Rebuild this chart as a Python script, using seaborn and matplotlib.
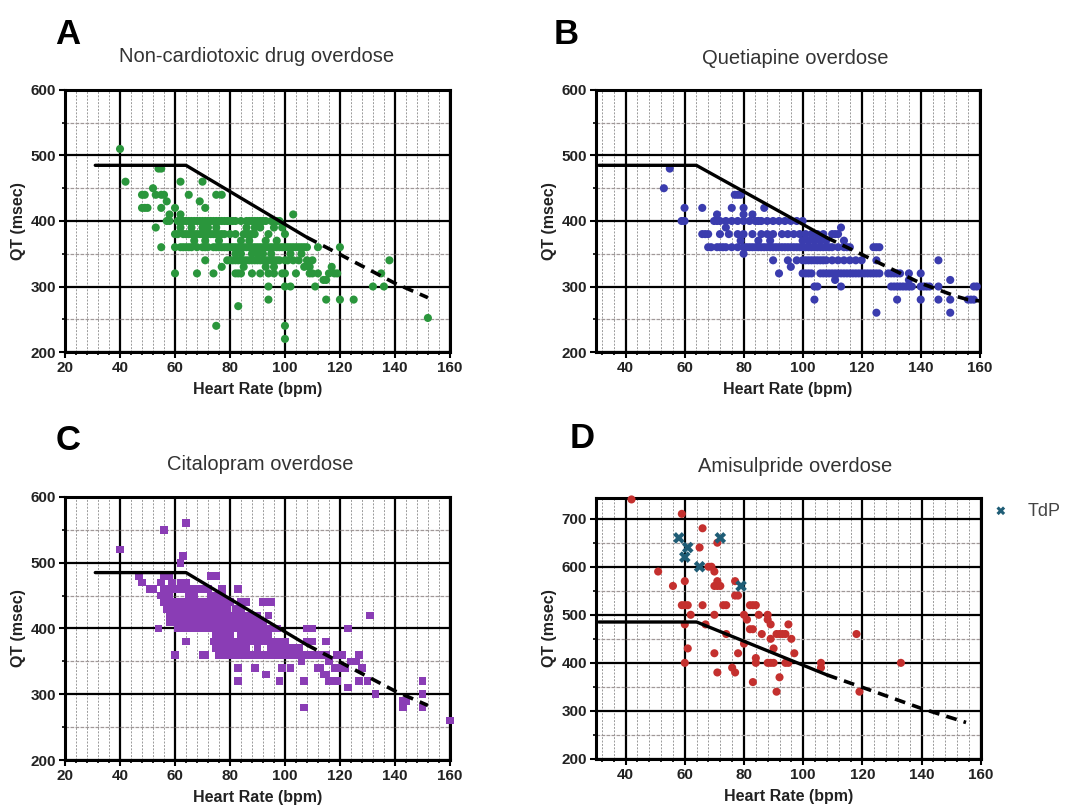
import numpy as np
import pandas as pd
import matplotlib
matplotlib.use("Agg")
import matplotlib.pyplot as plt
import seaborn as sns
from matplotlib.ticker import MultipleLocator

sns.set_style("white")
plt.rcParams['font.family'] = ['Liberation Sans', 'DejaVu Sans']

# ---------------- data ----------------
# QT nomogram (solid part, dashed extrapolation)
nomo_hr = [31, 64, 108]
nomo_qt = [485, 485, 375]
nomo_ext_hr = [108, 120, 140, 152]
nomo_ext_qt = [375, 349, 305, 283]
nomo_ext_hr_b = [108, 120, 140, 152, 156, 160]
nomo_ext_qt_b = [375, 349, 305, 285, 280, 278]
nomo_ext_hr_d = [108, 120, 140, 155]
nomo_ext_qt_d = [375, 349, 305, 276]

# Panel A: non-cardiotoxic (rows by QT value + scattered points)
a_rows = {
    400: [57, 58, 61, 63, 64, 65, 66, 67, 68, 69, 70, 71, 72, 73, 74, 75, 76, 77, 78, 79, 80, 81, 82, 84, 86, 87, 88, 89, 90, 91, 92, 93, 95, 97, 98],
    390: [62, 66, 70, 72, 75, 86, 89, 91, 96, 99],
    380: [61, 63, 64, 65, 66, 67, 68, 69, 70, 71, 72, 73, 74, 75, 76, 77, 78, 80, 82, 85, 86, 87, 88, 89, 94, 100],
    370: [67, 71, 76, 84, 87, 93, 97],
    360: [55, 60, 62, 63, 64, 65, 66, 68, 70, 71, 72, 74, 75, 76, 77, 78, 79, 80, 81, 82, 83, 84, 85, 86, 87, 88, 89, 90, 91, 92, 93, 94, 95, 96, 97, 98, 99, 100, 101, 102, 103, 104, 105, 106, 107, 108, 112, 120],
    350: [82, 84, 88, 90, 92, 95, 102, 106],
    340: [71, 79, 80, 81, 82, 83, 84, 85, 86, 87, 88, 89, 90, 91, 92, 93, 94, 95, 96, 97, 98, 100, 101, 103, 105, 108, 110, 138],
    330: [77, 85, 93, 96, 107, 109, 117],
    320: [60, 68, 74, 82, 83, 84, 88, 91, 94, 96, 99, 100, 104, 109, 110, 112, 116, 118, 119, 135],
    310: [114, 115],
    300: [94, 100, 102, 111, 132, 136],
    280: [94, 115, 120, 125],
}
a_extra_hr = [40, 42, 48, 49, 48, 49, 50, 52, 53, 55, 56, 57, 54, 55, 53, 55, 58, 60, 60, 62, 62, 65, 69, 70, 71, 75, 75, 77, 83, 100, 100, 103, 152]
a_extra_qt = [510, 460, 440, 440, 420, 420, 420, 450, 440, 440, 440, 430, 480, 480, 390, 420, 410, 420, 380, 460, 410, 440, 430, 460, 420, 240, 440, 440, 270, 240, 220, 410, 252]

# Panel B: quetiapine
b_rows = {
    400: [70, 72, 74, 76, 78, 80, 82, 84, 86, 88, 90, 92, 94, 96, 98, 100],
    380: [66, 67, 68, 72, 75, 78, 80, 83, 86, 88, 90, 93, 95, 97, 99, 101, 103, 105, 107, 110, 112],
    370: [79, 85, 89, 100, 102, 104, 106, 108, 114],
    360: [68, 69, 71, 72, 73, 74, 76, 78, 80, 81, 82, 83, 84, 85, 86, 87, 88, 89, 90, 91, 92, 93, 94, 95, 96, 97, 98, 99, 100, 101, 102, 103, 104, 105, 106, 107, 108, 109, 110, 112, 114, 115, 116, 124, 125, 126],
    340: [90, 95, 98, 100, 101, 102, 103, 104, 105, 106, 107, 108, 110, 112, 114, 116, 118, 120, 125],
    320: [92, 100, 101, 102, 103, 106, 107, 108, 109, 110, 111, 112, 113, 114, 115, 116, 117, 118, 119, 120, 121, 122, 123, 124, 125, 126, 129, 130, 131, 132, 133, 136, 140],
    300: [104, 105, 113, 130, 131, 132, 133, 134, 135, 136, 137, 140, 141, 142, 143, 146, 158, 159],
    280: [104, 132, 140, 146, 150, 156, 157, 158],
}
b_extra_hr = [53, 55, 60, 60, 59, 66, 71, 71, 74, 76, 77, 78, 79, 80, 80, 80, 83, 85, 87, 96, 125, 146, 150, 150, 111, 113, 111, 136]
b_extra_qt = [450, 480, 420, 400, 400, 420, 410, 400, 390, 420, 440, 440, 440, 420, 410, 350, 410, 400, 420, 330, 260, 340, 260, 310, 310, 390, 380, 310]

# Panel C: citalopram
c_rows = {
    480: [56, 57, 58, 73, 74, 75],
    470: [55, 59, 62, 63, 64],
    460: [51, 52, 56, 57, 58, 60, 62, 63, 64, 66, 67, 68, 70, 71, 72, 77, 83],
    450: [55, 56, 57, 58, 65, 67, 73, 75, 77],
    440: [56, 57, 58, 59, 60, 62, 64, 66, 68, 69, 70, 72, 74, 76, 78, 80, 84, 86, 92, 95],
    430: [57, 59, 61, 63, 65, 67, 69, 71, 73, 75, 77, 79, 82, 84],
    420: [58, 59, 60, 62, 64, 66, 67, 68, 70, 72, 73, 74, 75, 76, 78, 80, 82, 84, 86, 88, 90, 94, 131],
    410: [58, 60, 61, 62, 64, 65, 66, 68, 69, 70, 71, 72, 73, 74, 75, 76, 77, 78, 79, 80, 81, 82, 83, 84, 85, 86, 87, 88, 90, 91, 92],
    400: [54, 61, 63, 65, 67, 69, 71, 73, 75, 77, 79, 81, 83, 85, 87, 89, 91, 93, 95, 97, 108, 109, 110, 123],
    390: [75, 76, 78, 80, 84, 86, 88, 90, 92, 94],
    380: [64, 74, 76, 77, 78, 79, 80, 82, 84, 86, 88, 90, 92, 94, 96, 98, 100, 108, 109, 110, 115],
    370: [75, 77, 80, 82, 84, 86, 90, 95, 97, 99, 101, 103, 105],
    360: [60, 70, 71, 76, 77, 78, 79, 80, 81, 82, 83, 84, 85, 86, 87, 88, 89, 90, 91, 92, 93, 94, 95, 96, 97, 98, 99, 100, 101, 102, 103, 104, 105, 106, 107, 108, 109, 110, 111, 112, 113, 114, 115, 119, 120, 121, 127],
    350: [106, 116, 124, 126],
    340: [83, 89, 99, 102, 112, 113, 118, 120, 121, 122, 128],
    330: [93, 114, 115],
    320: [83, 98, 107, 116, 119, 127, 130, 150],
    310: [123],
    300: [133, 150],
    290: [143, 144],
    280: [107, 143, 150],
}
c_extra_hr = [40, 56, 64, 62, 63, 47, 48, 160]
c_extra_qt = [520, 550, 560, 500, 510, 480, 470, 260]

# Panel D: amisulpride
d_hr = [42, 59, 51, 56, 60, 59, 60, 61, 62, 60, 61, 60,
        65, 66, 66, 67, 68, 69, 70, 70, 71, 72, 71, 71, 70, 70, 71,
        73, 74, 74, 76, 77, 77, 77, 78, 78,
        80, 80, 81, 82, 83, 84, 82, 83, 84, 84, 85, 86, 83,
        88, 88, 89, 88, 89, 90, 89, 90, 91, 92, 93, 94, 95, 96, 97, 94, 95, 92, 91,
        106, 106, 118, 119, 133]
d_qt = [740, 710, 590, 560, 570, 520, 520, 520, 500, 480, 430, 400,
        640, 680, 520, 480, 600, 600, 590, 560, 560, 560, 570, 650, 500, 420, 380,
        520, 520, 460, 390, 380, 570, 540, 540, 420,
        500, 440, 490, 520, 520, 520, 470, 470, 410, 400, 500, 460, 360,
        500, 490, 480, 400, 400, 400, 450, 430, 460, 460, 460, 460, 480, 450, 420, 400, 400, 370, 340,
        400, 390, 460, 340, 400]
tdp_hr = [58, 61, 60, 65, 72, 79]
tdp_qt = [660, 640, 620, 600, 660, 560]


def rows_to_df(rows, extra_hr, extra_qt):
    hr, qt = [], []
    for q, xs in rows.items():
        hr += xs
        qt += [q] * len(xs)
    hr += extra_hr
    qt += extra_qt
    return pd.DataFrame({"HR": hr, "QT": qt})


df_a = rows_to_df(a_rows, a_extra_hr, a_extra_qt)
df_b = rows_to_df(b_rows, b_extra_hr, b_extra_qt)
df_c = rows_to_df(c_rows, c_extra_hr, c_extra_qt)
df_d = pd.DataFrame({"HR": d_hr, "QT": d_qt})
df_tdp = pd.DataFrame({"HR": tdp_hr, "QT": tdp_qt})

# ---------------- figure ----------------
fig = plt.figure(figsize=(10.75, 8.07), dpi=100)
axA = fig.add_axes([0.0605, 0.5638, 0.358, 0.3247])
axB = fig.add_axes([0.5544, 0.5638, 0.357, 0.3247])
axC = fig.add_axes([0.0605, 0.0582, 0.358, 0.326])
axD = fig.add_axes([0.5544, 0.0595, 0.358, 0.3234])

TXT = "#222222"


def style(ax, xlim, ylim, xticks, yticks):
    ax.set_xlim(*xlim)
    ax.set_ylim(*ylim)
    ax.set_xticks(xticks)
    ax.set_yticks(yticks)
    ax.xaxis.set_minor_locator(MultipleLocator(4))
    ax.yaxis.set_minor_locator(MultipleLocator(50))
    ax.grid(which="major", color="black", lw=1.6, zorder=1)
    ax.grid(which="minor", axis="x", color="#9a9a9a", lw=0.7, ls=(0, (2, 1.5)), zorder=0)
    ax.grid(which="minor", axis="y", color="#a09898", lw=0.9, ls=(0, (3, 1)), zorder=0)
    for s in ax.spines.values():
        s.set_color("black")
        s.set_linewidth(2.2)
    ax.tick_params(which="major", direction="out", length=4, width=1.5, color="black",
                   labelsize=11, pad=2.5, left=True, bottom=True)
    ax.tick_params(which="minor", direction="out", length=2.5, width=1.2, color="black",
                   left=True, bottom=True)
    for lab in ax.get_xticklabels() + ax.get_yticklabels():
        lab.set_fontweight("bold")
        lab.set_color(TXT)
    ax.set_xlabel("Heart Rate (bpm)", fontsize=11.5, fontweight="bold", color=TXT, labelpad=5)
    ax.set_ylabel("QT (msec)", fontsize=11.5, fontweight="bold", color=TXT, labelpad=3)
    ax.set_axisbelow(True)


def nomogram(ax, ext_hr, ext_qt):
    sns.lineplot(x=nomo_hr, y=nomo_qt, ax=ax, color="black", lw=2.4, sort=False,
                 estimator=None, zorder=4)
    sns.lineplot(x=ext_hr, y=ext_qt, ax=ax, color="black", lw=2.6, sort=False,
                 estimator=None, zorder=4, linestyle=(0, (3, 2)))


panels = [
    (axA, df_a, "#2a963c", "o", (20, 160), (200, 600), nomo_ext_hr, nomo_ext_qt),
    (axB, df_b, "#3a3cae", "o", (30, 160), (200, 600), nomo_ext_hr_b, nomo_ext_qt_b),
    (axC, df_c, "#8a3db5", "s", (20, 160), (200, 600), nomo_ext_hr, nomo_ext_qt),
    (axD, df_d, "#c4302e", "o", (30, 160), (200, 743), nomo_ext_hr_d, nomo_ext_qt_d),
]

for ax, df, col, mk, xl, yl, ehr, eqt in panels:
    xt = list(range(20 if xl[0] == 20 else 40, 161, 20))
    yt = list(range(200, int(yl[1]) + 1, 100))
    sns.scatterplot(data=df, x="HR", y="QT", ax=ax, color=col, marker=mk,
                    s=34 if mk == "o" else 30, edgecolor="none", linewidth=0, zorder=3, clip_on=False)
    nomogram(ax, ehr, eqt)
    style(ax, xl, yl, xt, yt)

sns.scatterplot(data=df_tdp, x="HR", y="QT", ax=axD, color="#1f5d76", marker="X",
                s=70, edgecolor="none", linewidth=0, zorder=5, label="TdP")
axD.legend(loc="center left", bbox_to_anchor=(990 / 1075, 1 - 511 / 807),
           bbox_transform=fig.transFigure, frameon=False, fontsize=13,
           handlelength=1.2, handletextpad=0.9, borderpad=0, borderaxespad=0,
           markerscale=0.75, labelcolor="#444444")
axD.set_xlabel("Heart Rate (bpm)", fontsize=11.5, fontweight="bold", color=TXT, labelpad=5)
axD.set_ylabel("QT (msec)", fontsize=11.5, fontweight="bold", color=TXT, labelpad=3)

# titles and panel letters
TCOL = "#333333"
fig.text(257 / 1075, 1 - 57 / 807, "Non-cardiotoxic drug overdose", ha="center", va="center", fontsize=14.5, color=TCOL)
fig.text(795 / 1075, 1 - 58 / 807, "Quetiapine overdose", ha="center", va="center", fontsize=14.5, color=TCOL)
fig.text(260 / 1075, 1 - 465 / 807, "Citalopram overdose", ha="center", va="center", fontsize=14.5, color=TCOL)
fig.text(795 / 1075, 1 - 466 / 807, "Amisulpride overdose", ha="center", va="center", fontsize=14.5, color=TCOL)
for lx, ly, L in [(68, 35, "A"), (566, 34, "B"), (68, 440, "C"), (582, 438, "D")]:
    fig.text(lx / 1075, 1 - ly / 807, L, ha="center", va="center", fontsize=25, fontweight="bold", color="black")

fig.savefig("out.png", dpi=100)
